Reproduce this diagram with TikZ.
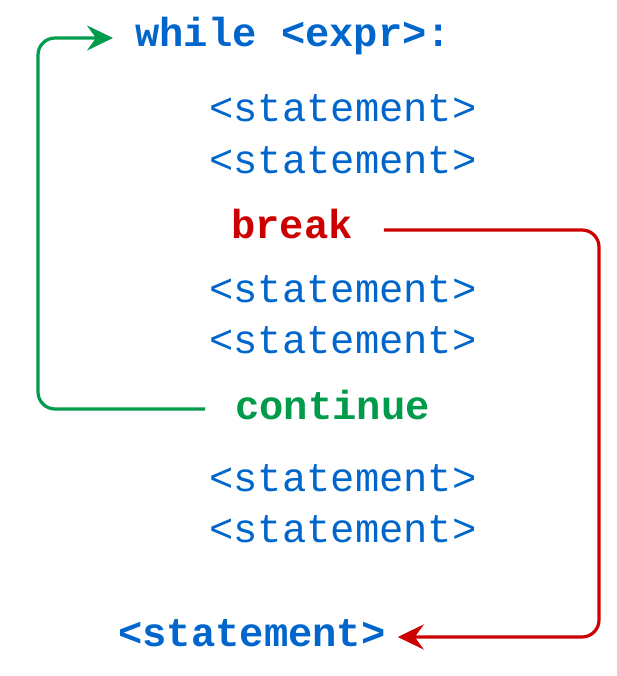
\documentclass[tikz,border=0pt]{standalone}
\usepackage{fontspec}
\setmonofont{Liberation Mono}
\usetikzlibrary{positioning,arrows.meta}
\definecolor{codeblue}{RGB}{0,102,204}
\definecolor{loopgreen}{RGB}{0,155,75}
\definecolor{exitred}{RGB}{204,0,0}

\begin{document}
\begin{tikzpicture}[x=1pt,y=-1pt,
% Text styles
code/.style={font=\fontsize{40.5}{40.5}\selectfont\ttfamily,text=codeblue,
	anchor=base west,inner sep=0pt},
kw/.style={code,font=\fontsize{40.5}{40.5}\selectfont\ttfamily\bfseries},
% Connector styles
jump/.style={line width=3.2pt,rounded corners=17pt,
	-{Stealth[length=26pt,width=25pt,inset=9pt]}},
]
\useasboundingbox (0,0) rectangle (617,676);
%% Code lines
\node (whilekw) [kw] at (135,47) {while <expr>:};
\node (stmta) [code] at (209,122) {<statement>};
\node (stmtb) [code] at (209,174) {<statement>};
\node (brk) [kw,text=exitred] at (231,238) {break};
\node (stmtc) [code] at (209,302) {<statement>};
\node (stmtd) [code] at (209,353) {<statement>};
\node (cont) [kw,text=loopgreen] at (235,419) {continue};
\node (stmte) [code] at (209,491) {<statement>};
\node (stmtf) [code] at (209,542) {<statement>};
\node (after) [kw] at (118,646) {<statement>};
%% Rails and connector ends
\coordinate (lrail) at (38,0);
\coordinate (rrail) at (599,0);
\coordinate (wtip) at ([shift={(-22pt,9pt)}]whilekw.base west);
\coordinate (cstart) at ([shift={(-30pt,10pt)}]cont.base west);
\coordinate (bstart) at ([shift={(31pt,8pt)}]brk.base east);
\coordinate (atip) at ([shift={(12pt,9pt)}]after.base east);
\draw[jump,loopgreen] (cstart) -| (lrail |- wtip) -- (wtip);
\draw[jump,exitred] (bstart) -| (rrail |- atip) -- (atip);
\end{tikzpicture}
\end{document}
